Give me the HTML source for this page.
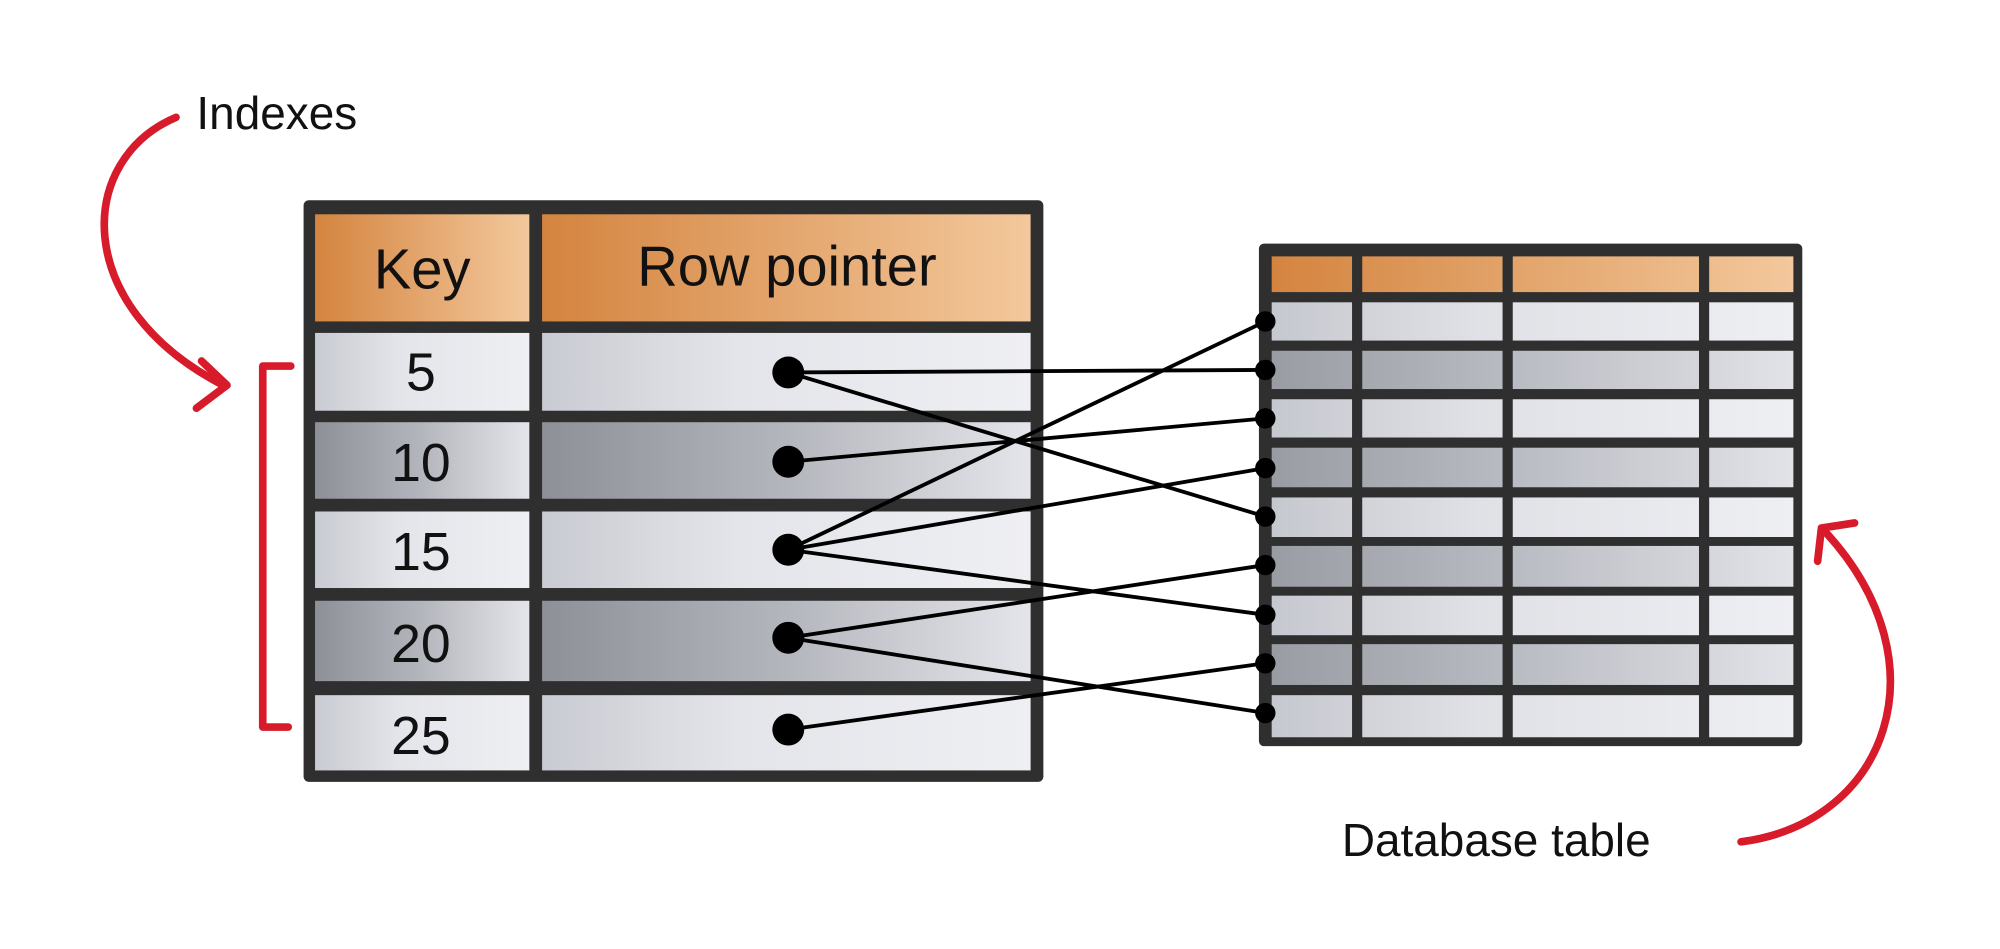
<!DOCTYPE html>
<html><head><meta charset="utf-8"><style>
html,body{margin:0;padding:0;background:#fff;width:2000px;height:949px;overflow:hidden}
svg{display:block}
text{font-family:"Liberation Sans","DejaVu Sans",sans-serif;fill:#111}
</style></head><body>
<svg width="2000" height="949" viewBox="0 0 1568 744" xmlns="http://www.w3.org/2000/svg">
<defs>
<linearGradient id="hd" x1="0" x2="1"><stop offset="0" stop-color="#d4843f"/><stop offset="1" stop-color="#f3c89c"/></linearGradient>
<linearGradient id="lt" x1="0" x2="1"><stop offset="0" stop-color="#c9cbd2"/><stop offset="0.4" stop-color="#e4e5ea"/><stop offset="1" stop-color="#eeeff3"/></linearGradient>
<linearGradient id="dk" x1="0" x2="1"><stop offset="0" stop-color="#8e9098"/><stop offset="0.5" stop-color="#b4b6bd"/><stop offset="1" stop-color="#e4e5ea"/></linearGradient>
<linearGradient id="rhd" gradientUnits="userSpaceOnUse" x1="997" x2="1406" y1="0" y2="0"><stop offset="0" stop-color="#d4843f"/><stop offset="1" stop-color="#f3c89c"/></linearGradient>
<linearGradient id="rlt" gradientUnits="userSpaceOnUse" x1="997" x2="1406" y1="0" y2="0"><stop offset="0" stop-color="#c6c8cf"/><stop offset="0.4" stop-color="#e0e1e6"/><stop offset="1" stop-color="#eeeff3"/></linearGradient>
<linearGradient id="rdk" gradientUnits="userSpaceOnUse" x1="997" x2="1406" y1="0" y2="0"><stop offset="0" stop-color="#9a9ca4"/><stop offset="0.5" stop-color="#bcbec5"/><stop offset="1" stop-color="#e2e3e8"/></linearGradient>
</defs>
<!-- Left table -->
<rect x="238" y="157" width="580" height="456" rx="4" fill="#2f2f2f"/>
<rect x="247" y="168" width="168" height="84" fill="url(#hd)"/>
<rect x="425" y="168" width="383" height="84" fill="url(#hd)"/>
<g>
<rect x="247" y="261" width="168" height="61" fill="url(#lt)"/><rect x="425" y="261" width="383" height="61" fill="url(#lt)"/>
<rect x="247" y="331" width="168" height="60" fill="url(#dk)"/><rect x="425" y="331" width="383" height="60" fill="url(#dk)"/>
<rect x="247" y="401" width="168" height="60" fill="url(#lt)"/><rect x="425" y="401" width="383" height="60" fill="url(#lt)"/>
<rect x="247" y="471" width="168" height="63" fill="url(#dk)"/><rect x="425" y="471" width="383" height="63" fill="url(#dk)"/>
<rect x="247" y="545" width="168" height="59" fill="url(#lt)"/><rect x="425" y="545" width="383" height="59" fill="url(#lt)"/>
</g>
<text x="331" y="226" font-size="44" text-anchor="middle">Key</text>
<text x="617" y="224" font-size="44" text-anchor="middle">Row pointer</text>
<g font-size="42" text-anchor="middle">
<text x="330" y="306">5</text><text x="330" y="377">10</text><text x="330" y="447">15</text><text x="330" y="519">20</text><text x="330" y="591">25</text>
</g>
<!-- Right table -->
<rect x="987" y="191" width="426" height="394" rx="4" fill="#2f2f2f"/>
<g fill="url(#rhd)">
<rect x="997" y="201" width="63" height="28"/><rect x="1068" y="201" width="110" height="28"/><rect x="1186" y="201" width="146" height="28"/><rect x="1340" y="201" width="66" height="28"/>
</g>
<g>
<g fill="url(#rlt)"><rect x="997" y="237" width="63" height="30"/><rect x="1068" y="237" width="110" height="30"/><rect x="1186" y="237" width="146" height="30"/><rect x="1340" y="237" width="66" height="30"/></g>
<g fill="url(#rdk)"><rect x="997" y="275" width="63" height="30"/><rect x="1068" y="275" width="110" height="30"/><rect x="1186" y="275" width="146" height="30"/><rect x="1340" y="275" width="66" height="30"/></g>
<g fill="url(#rlt)"><rect x="997" y="313" width="63" height="30"/><rect x="1068" y="313" width="110" height="30"/><rect x="1186" y="313" width="146" height="30"/><rect x="1340" y="313" width="66" height="30"/></g>
<g fill="url(#rdk)"><rect x="997" y="351" width="63" height="31"/><rect x="1068" y="351" width="110" height="31"/><rect x="1186" y="351" width="146" height="31"/><rect x="1340" y="351" width="66" height="31"/></g>
<g fill="url(#rlt)"><rect x="997" y="390" width="63" height="31"/><rect x="1068" y="390" width="110" height="31"/><rect x="1186" y="390" width="146" height="31"/><rect x="1340" y="390" width="66" height="31"/></g>
<g fill="url(#rdk)"><rect x="997" y="428" width="63" height="32"/><rect x="1068" y="428" width="110" height="32"/><rect x="1186" y="428" width="146" height="32"/><rect x="1340" y="428" width="66" height="32"/></g>
<g fill="url(#rlt)"><rect x="997" y="467" width="63" height="31"/><rect x="1068" y="467" width="110" height="31"/><rect x="1186" y="467" width="146" height="31"/><rect x="1340" y="467" width="66" height="31"/></g>
<g fill="url(#rdk)"><rect x="997" y="505" width="63" height="32"/><rect x="1068" y="505" width="110" height="32"/><rect x="1186" y="505" width="146" height="32"/><rect x="1340" y="505" width="66" height="32"/></g>
<g fill="url(#rlt)"><rect x="997" y="545" width="63" height="33"/><rect x="1068" y="545" width="110" height="33"/><rect x="1186" y="545" width="146" height="33"/><rect x="1340" y="545" width="66" height="33"/></g>
</g>
<!-- connectors -->
<g stroke="#000" stroke-width="3" fill="none">
<line x1="618" y1="292" x2="992" y2="290"/>
<line x1="618" y1="292" x2="992" y2="405"/>
<line x1="618" y1="362" x2="992" y2="328"/>
<line x1="618" y1="431" x2="992" y2="252"/>
<line x1="618" y1="431" x2="992" y2="367"/>
<line x1="618" y1="431" x2="992" y2="482"/>
<line x1="618" y1="500" x2="992" y2="443"/>
<line x1="618" y1="500" x2="992" y2="559"/>
<line x1="618" y1="572" x2="992" y2="520"/>
</g>
<g fill="#000">
<circle cx="618" cy="292" r="12.5"/><circle cx="618" cy="362" r="12.5"/><circle cx="618" cy="431" r="12.5"/><circle cx="618" cy="500" r="12.5"/><circle cx="618" cy="572" r="12.5"/>
<circle cx="992" cy="252" r="8"/><circle cx="992" cy="290" r="8"/><circle cx="992" cy="328" r="8"/><circle cx="992" cy="367" r="8"/><circle cx="992" cy="405" r="8"/><circle cx="992" cy="443" r="8"/><circle cx="992" cy="482" r="8"/><circle cx="992" cy="520" r="8"/><circle cx="992" cy="559" r="8"/>
</g>
<!-- red annotations -->
<g stroke="#d81b2a" fill="none" stroke-linecap="round" stroke-linejoin="round">
<path d="M138 92 C60 125 55 240 175 302" stroke-width="6"/>
<path d="M158 283 L178 302 L154 320" stroke-width="6"/>
<path d="M228 287 L206 287 L206 570 L226 570" stroke-width="6"/>
<path d="M1365 660 C1480 645 1525 520 1432 418" stroke-width="6"/>
<path d="M1425 440 L1428 414 L1454 410" stroke-width="6"/>
</g>
<text x="154" y="101" font-size="36">Indexes</text>
<text x="1052" y="671" font-size="36">Database table</text>
</svg>
</body></html>
